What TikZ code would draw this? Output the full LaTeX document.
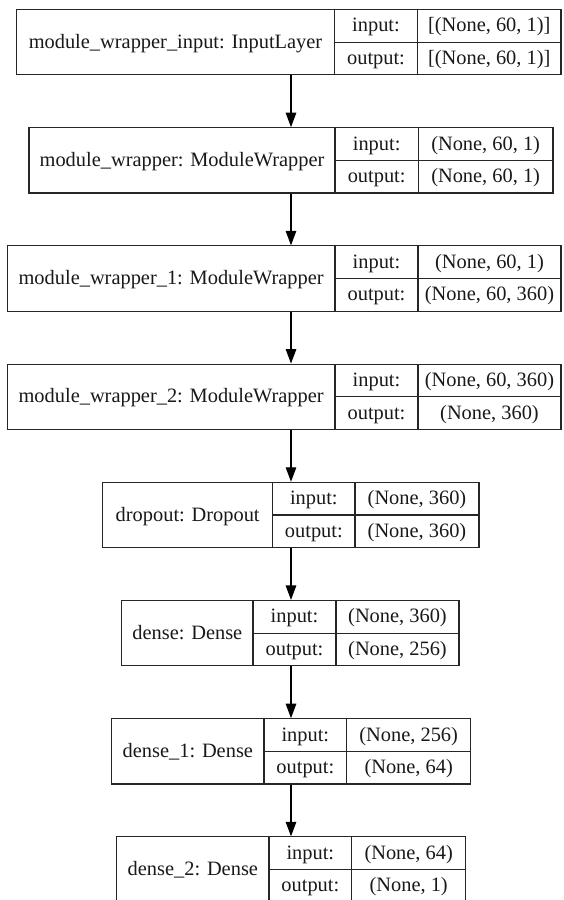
\documentclass[tikz,border=0pt]{standalone}
\usepackage{fontspec}
\setmainfont{Liberation Serif}
\usetikzlibrary{arrows.meta,fit}
\colorlet{ink}{black!85}
\tikzset{
  box/.style={draw=ink, line width=1.1pt, inner sep=0pt},
  sepline/.style={draw=ink, line width=1.1pt},
  lbl/.style={anchor=base, inner sep=0pt, text=black!90, font=\fontsize{20.4}{24}\selectfont},
  arr/.style={draw=black, line width=1.2pt, -{Triangle[length=14.5pt,width=10.5pt]}},
}
% id, left, top, d1, d2, right, name, in, out
\newcommand\kerasLayer[9]{%
  \coordinate (#1-nw) at (#2,#3);
  \coordinate (#1-se) at (#6,{#3+65.3});
  \node[box, fit=(#1-nw)(#1-se)] (#1) {};
  \draw[sepline] (#4,#3) -- (#4,{#3+65.3}) (#5,#3) -- (#5,{#3+65.3})
                 (#4,{#3+32.7}) -- (#6,{#3+32.7});
  \node[lbl] (#1-name) at ({(#2+#4)/2},{#3+38.7}) {#7};
  \node[lbl] (#1-inl)  at ({(#4+#5)/2},{#3+22.4}) {input:};
  \node[lbl] (#1-outl) at ({(#4+#5)/2},{#3+55.0}) {output:};
  \node[lbl] (#1-inv)  at ({(#5+#6)/2},{#3+22.4}) {#8};
  \node[lbl] (#1-outv) at ({(#5+#6)/2},{#3+55.0}) {#9};
}
\begin{document}
\begin{tikzpicture}[x=1pt,y=-1pt]
\useasboundingbox (0,0) rectangle (563,900);
\clip (0,0) rectangle (563,900);
\fill[white] (0,0) rectangle (563,900);
\coordinate (ax) at (291,0);
\kerasLayer{b1}{16.5}{9.5}{334.5}{417.5}{561}{module\_wrapper\_input: InputLayer}{[(None, 60, 1)]}{[(None, 60, 1)]}
\kerasLayer{b2}{29}{127.7}{335}{418.3}{553}{module\_wrapper: ModuleWrapper}{(None, 60, 1)}{(None, 60, 1)}
\kerasLayer{b3}{7.3}{245.9}{335}{418}{561}{module\_wrapper\_1: ModuleWrapper}{(None, 60, 1)}{(None, 60, 360)}
\kerasLayer{b4}{7.3}{364.1}{335}{418}{561}{module\_wrapper\_2: ModuleWrapper}{(None, 60, 360)}{(None, 360)}
\kerasLayer{b5}{102.7}{482.3}{272.7}{355}{479}{dropout: Dropout}{(None, 360)}{(None, 360)}
\kerasLayer{b6}{121.7}{600.5}{253}{336}{459}{dense: Dense}{(None, 360)}{(None, 256)}
\kerasLayer{b7}{111.7}{718.7}{264}{346.7}{470.7}{dense\_1: Dense}{(None, 256)}{(None, 64)}
\kerasLayer{b8}{116.7}{836.9}{269}{351.7}{465.7}{dense\_2: Dense}{(None, 64)}{(None, 1)}
\draw[arr] (b1.south -| ax) -- (b2.north -| ax);
\draw[arr] (b2.south -| ax) -- (b3.north -| ax);
\draw[arr] (b3.south -| ax) -- (b4.north -| ax);
\draw[arr] (b4.south -| ax) -- (b5.north -| ax);
\draw[arr] (b5.south -| ax) -- (b6.north -| ax);
\draw[arr] (b6.south -| ax) -- (b7.north -| ax);
\draw[arr] (b7.south -| ax) -- (b8.north -| ax);
\end{tikzpicture}
\end{document}
